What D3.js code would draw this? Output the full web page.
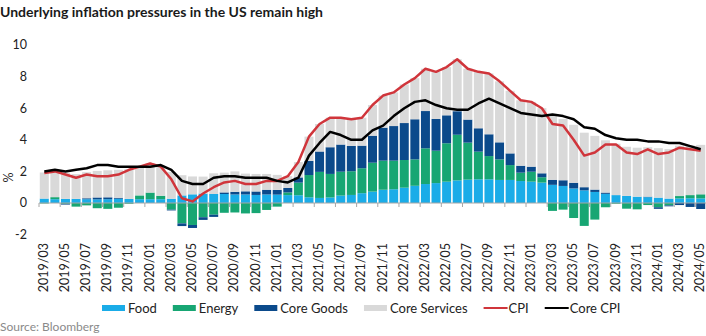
<!DOCTYPE html>
<html lang="en">
<head>
    <meta charset="UTF-8">
    <script src="https://d3js.org/d3.v7.min.js"></script>
    <style>
        body { margin: 0; background: #fff; }
        svg { font-family: Lato, "Open Sans", sans-serif; }
        .title { font-size: 14px; font-weight: bold; fill: #1a1a1a; }
        .tick-label { font-size: 12.5px; fill: #222; }
        .legend text { font-size: 13px; fill: #222; }
        .source { font-size: 12px; fill: #8a8a8a; }
    </style>
    <title></title>
</head>
<body>
    <div id="chart"></div>
    <script>
        // Months 2019/03 .. 2024/05
        const months = [];
        for (let y = 2019, m = 3; y < 2024 || (y === 2024 && m <= 5);) {
            months.push(`${y}/${String(m).padStart(2, "0")}`);
            m++;
            if (m > 12) { m = 1; y++; }
        }

        // Contributions to YoY CPI, percentage points
        const food = [
            0.28, 0.24, 0.26, 0.26, 0.24, 0.23, 0.24, 0.27, 0.26, 0.24,
            0.24, 0.24, 0.27, 0.48, 0.55, 0.60, 0.57, 0.57, 0.54, 0.54, 0.51, 0.54,
            0.53, 0.50, 0.49, 0.36, 0.32, 0.35, 0.47, 0.51, 0.62, 0.72, 0.84, 0.87,
            0.97, 1.09, 1.20, 1.26, 1.35, 1.43, 1.48, 1.50, 1.50, 1.46, 1.46, 1.39,
            1.35, 1.29, 1.15, 1.08, 0.92, 0.80, 0.70, 0.58, 0.50, 0.45, 0.40, 0.37,
            0.34, 0.28, 0.29, 0.30, 0.29
        ];
        const energy = [
            -0.03, 0.13, -0.05, -0.23, -0.15, -0.33, -0.37, -0.30, -0.05, 0.24,
            0.42, 0.22, -0.42, -1.29, -1.39, -0.90, -0.74, -0.62, -0.60, -0.66, -0.64, -0.44,
            -0.23, 0.17, 0.80, 1.41, 1.65, 1.49, 1.51, 1.50, 1.58, 1.83, 1.84, 1.81,
            1.75, 1.67, 2.26, 2.05, 2.43, 2.89, 2.34, 1.75, 1.47, 1.30, 0.94, 0.53,
            0.63, 0.34, -0.50, -0.42, -0.95, -1.45, -1.05, -0.27, -0.05, -0.36, -0.40, -0.13,
            -0.27, -0.15, 0.15, 0.20, 0.26
        ];
        const coreGoods = [
            0.00, 0.00, -0.05, 0.00, 0.06, 0.12, 0.12, 0.06, 0.00, 0.00,
            0.00, 0.00, -0.05, -0.17, -0.19, -0.17, -0.14, 0.10, 0.17, 0.20, 0.22, 0.30,
            0.30, 0.28, 0.33, 0.90, 1.29, 1.69, 1.72, 1.60, 1.43, 1.71, 2.09, 2.19,
            2.34, 2.54, 2.36, 2.01, 1.77, 1.49, 1.46, 1.48, 1.38, 1.08, 0.74, 0.44,
            0.32, 0.25, 0.32, 0.36, 0.36, 0.20, 0.15, 0.08, 0.00, 0.00, 0.00, 0.03,
            -0.10, -0.06, -0.13, -0.25, -0.38
        ];
        const coreServices = [
            1.65, 1.63, 1.64, 1.57, 1.65, 1.68, 1.71, 1.77, 1.89, 1.82,
            1.84, 1.84, 1.70, 1.28, 1.13, 1.07, 1.31, 1.25, 1.29, 1.12, 1.11, 1.00,
            0.95, 0.75, 0.97, 1.53, 1.74, 1.87, 1.70, 1.69, 1.77, 1.94, 2.03, 2.13,
            2.44, 2.60, 2.68, 2.98, 3.05, 3.29, 3.22, 3.57, 3.85, 3.86, 3.96, 4.14,
            4.10, 4.12, 4.03, 3.88, 3.67, 3.45, 3.40, 3.31, 3.25, 3.11, 3.10, 3.13,
            3.13, 3.13, 3.19, 3.15, 3.13
        ];
        const cpi = [
            1.9, 2.0, 1.8, 1.6, 1.8, 1.7, 1.7, 1.8, 2.1, 2.3,
            2.5, 2.3, 1.5, 0.3, 0.1, 0.6, 1.0, 1.3, 1.4, 1.2, 1.2, 1.4,
            1.4, 1.7, 2.6, 4.2, 5.0, 5.4, 5.4, 5.3, 5.4, 6.2, 6.8, 7.0,
            7.5, 7.9, 8.5, 8.3, 8.6, 9.1, 8.5, 8.3, 8.2, 7.7, 7.1, 6.5,
            6.4, 6.0, 5.0, 4.9, 4.0, 3.0, 3.2, 3.7, 3.7, 3.2, 3.1, 3.4,
            3.1, 3.2, 3.5, 3.4, 3.3
        ];
        const coreCpi = [
            2.0, 2.1, 2.0, 2.1, 2.2, 2.4, 2.4, 2.3, 2.3, 2.3,
            2.3, 2.4, 2.1, 1.4, 1.2, 1.2, 1.6, 1.7, 1.7, 1.6, 1.6, 1.6,
            1.4, 1.3, 1.6, 3.0, 3.8, 4.5, 4.3, 4.0, 4.0, 4.6, 4.9, 5.5,
            6.0, 6.4, 6.5, 6.2, 6.0, 5.9, 5.9, 6.3, 6.6, 6.3, 6.0, 5.7,
            5.6, 5.5, 5.6, 5.5, 5.3, 4.8, 4.7, 4.3, 4.1, 4.0, 4.0, 3.9,
            3.9, 3.8, 3.8, 3.6, 3.4
        ];

        const seriesKeys = ["Food", "Energy", "Core Goods", "Core Services"];
        const yTicks = [-2, 0, 2, 4, 6, 8, 10];

        const colors = {
            "Food": "#1aace8",
            "Energy": "#17a673",
            "Core Goods": "#0b4a8b",
            "Core Services": "#d9d9d9",
            "CPI": "#d0353b",
            "Core CPI": "#000000"
        };

        const table = months.map((m, i) => ({
            month: m,
            "Food": food[i],
            "Energy": energy[i],
            "Core Goods": coreGoods[i],
            "Core Services": coreServices[i]
        }));

        const W = 706, H = 336;

        const svg = d3.select("#chart")
            .append("svg")
            .attr("width", W)
            .attr("height", H);

        svg.append("text")
            .attr("class", "title")
            .attr("x", 0)
            .attr("y", 17)
            .text("Underlying inflation pressures in the US remain high");

        const x = d3.scaleBand()
            .domain(months)
            .range([39, 706])
            .paddingInner(0.15)
            .paddingOuter(0.075);

        const y = d3.scaleLinear()
            .domain([-2, 10])
            .range([234.6, 45]);

        // y labels
        svg.append("g")
            .selectAll("text")
            .data(yTicks)
            .join("text")
            .attr("class", "tick-label")
            .attr("x", 27)
            .attr("y", d => y(d))
            .attr("dy", "0.35em")
            .attr("text-anchor", "end")
            .text(d => d);

        svg.append("text")
            .attr("class", "tick-label")
            .attr("transform", `translate(13, ${y(2) + 6}) rotate(-90)`)
            .attr("text-anchor", "middle")
            .text("%");

        // stacked bars
        const stack = d3.stack()
            .keys(seriesKeys)
            .offset(d3.stackOffsetDiverging);

        const layers = stack(table);

        svg.append("g")
            .selectAll("g")
            .data(layers)
            .join("g")
            .attr("fill", d => colors[d.key])
            .selectAll("rect")
            .data(d => d)
            .join("rect")
            .attr("x", d => x(d.data.month))
            .attr("width", x.bandwidth())
            .attr("y", d => y(Math.max(d[0], d[1])))
            .attr("height", d => Math.abs(y(d[0]) - y(d[1])));

        // zero axis with ticks every two months
        const step = x.step();
        const axis = svg.append("g");
        axis.append("line")
            .attr("x1", x(months[0]) - step * 0.075)
            .attr("x2", W)
            .attr("y1", y(0))
            .attr("y2", y(0))
            .attr("stroke", "#a6a6a6")
            .attr("stroke-width", 1);
        axis.selectAll(".tk")
            .data(months.filter((m, i) => i % 2 === 0))
            .join("line")
            .attr("class", "tk")
            .attr("x1", d => x(d) - step * 0.075)
            .attr("x2", d => x(d) - step * 0.075)
            .attr("y1", y(0))
            .attr("y2", y(0) + 4)
            .attr("stroke", "#a6a6a6");

        svg.append("g")
            .selectAll("text")
            .data(months.filter((m, i) => i % 2 === 0))
            .join("text")
            .attr("class", "tick-label")
            .attr("text-anchor", "end")
            .attr("transform", d => `translate(${x(d) + x.bandwidth() / 2 + 3.5}, 243) rotate(-90)`)
            .text(d => d);

        // lines
        const line = d3.line()
            .x((d, i) => x(months[i]) + x.bandwidth() / 2)
            .y(d => y(d));

        svg.append("path")
            .datum(cpi)
            .attr("fill", "none")
            .attr("stroke", colors["CPI"])
            .attr("stroke-width", 2.5)
            .attr("stroke-linejoin", "round")
            .attr("d", line);

        svg.append("path")
            .datum(coreCpi)
            .attr("fill", "none")
            .attr("stroke", colors["Core CPI"])
            .attr("stroke-width", 2.5)
            .attr("stroke-linejoin", "round")
            .attr("d", line);

        // legend
        const legendItems = [
            { name: "Food", type: "rect" },
            { name: "Energy", type: "rect" },
            { name: "Core Goods", type: "rect" },
            { name: "Core Services", type: "rect" },
            { name: "CPI", type: "line" },
            { name: "Core CPI", type: "line" }
        ];
        const legend = svg.append("g").attr("class", "legend");
        let lx = 102;
        const ly = 308;
        legendItems.forEach(item => {
            const g = legend.append("g").attr("transform", `translate(${lx}, ${ly})`);
            if (item.type === "rect") {
                g.append("rect")
                    .attr("x", 0).attr("y", -3)
                    .attr("width", 23).attr("height", 6)
                    .attr("fill", colors[item.name]);
            } else {
                g.append("line")
                    .attr("x1", 0).attr("x2", 24)
                    .attr("y1", 0).attr("y2", 0)
                    .attr("stroke", colors[item.name])
                    .attr("stroke-width", 2);
            }
            const t = g.append("text")
                .attr("x", item.type === "rect" ? 26 : 25)
                .attr("y", 0)
                .attr("dy", "0.35em")
                .text(item.name);
            const tw = t.node().getComputedTextLength();
            lx += (item.type === "rect" ? 26 : 25) + tw + 16;
        });

        svg.append("text")
            .attr("class", "source")
            .attr("x", 0)
            .attr("y", 331)
            .text("Source: Bloomberg");
    </script>
</body>
</html>
